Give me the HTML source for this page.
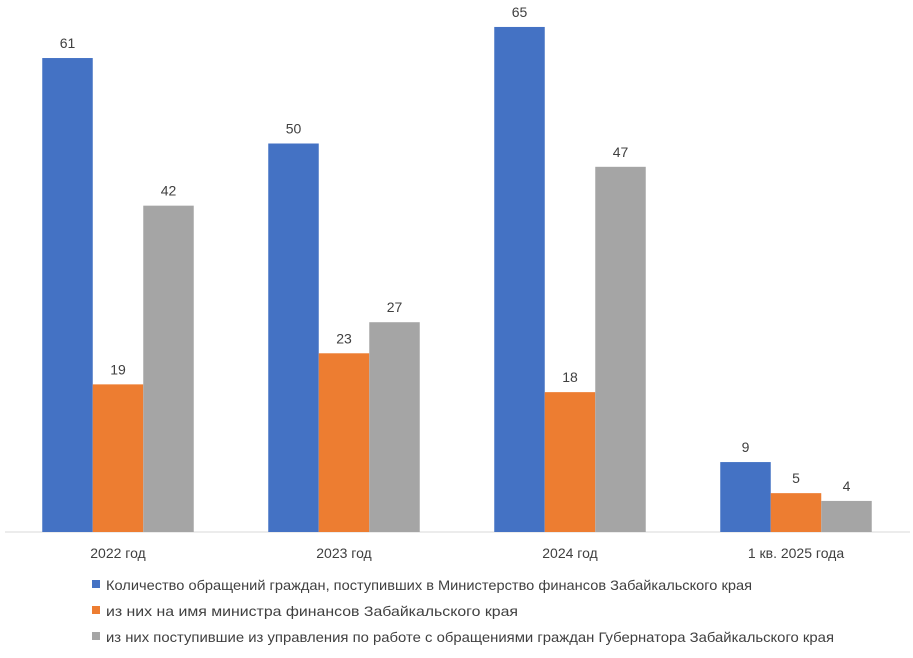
<!DOCTYPE html>
<html><head><meta charset="utf-8"><style>
body{margin:0;background:#fff;font-family:"Liberation Sans","DejaVu Sans",sans-serif;}
svg text{font-family:"Liberation Sans","DejaVu Sans",sans-serif;fill:#404040;}
</style></head><body>
<svg id="chart" width="913" height="653" viewBox="0 0 913 653" xmlns="http://www.w3.org/2000/svg">
<line x1="5" y1="532" x2="910" y2="532" stroke="#d9d9d9" stroke-width="1"/>
<g id="bars"></g>
<g id="labels"></g>
<g>
<rect x="92" y="580" width="8" height="8" fill="#4472c4"/>
<text x="106" y="590" font-size="14" textLength="646" lengthAdjust="spacingAndGlyphs">Количество обращений граждан, поступивших в Министерство финансов Забайкальского края</text>
<rect x="92" y="606" width="8" height="8" fill="#ed7d31"/>
<text x="106" y="616" font-size="14" textLength="412" lengthAdjust="spacingAndGlyphs">из них на имя министра финансов Забайкальского края</text>
<rect x="92" y="632" width="8" height="8" fill="#a5a5a5"/>
<text x="106" y="642" font-size="14" textLength="728" lengthAdjust="spacingAndGlyphs">из них поступившие из управления по работе с обращениями граждан Губернатора Забайкальского края</text>
</g>
</svg>
<script>
const categories=["2022 год","2023 год","2024 год","1 кв. 2025 года"];
const seriesTotal=[61,50,65,9];
const seriesMinister=[19,23,18,5];
const seriesGovernor=[42,27,47,4];
const colors=["#4472c4","#ed7d31","#a5a5a5"];
const names=["total","minister","governor"];
const series=[seriesTotal,seriesMinister,seriesGovernor];
const NS="http://www.w3.org/2000/svg";
const baseY=532, pxPerUnit=7.77, groupStart=5, groupW=226, barW=50.5;
function yScale(v){return baseY-v*pxPerUnit;}
function groupCenter(i){return groupStart+groupW*(i+0.5);}
const bars=document.getElementById("bars"), labels=document.getElementById("labels");
categories.forEach((c,i)=>{
  const cx=groupCenter(i);
  series.forEach((s,j)=>{
    const x=cx-1.5*barW+j*barW, y=yScale(s[i]);
    const r=document.createElementNS(NS,"rect");
    
    
    r.setAttribute("x",x);r.setAttribute("y",y);r.setAttribute("width",barW);r.setAttribute("height",baseY-y);r.setAttribute("fill",colors[j]);
    bars.appendChild(r);
    const t=document.createElementNS(NS,"text");
    
    
    t.setAttribute("x",x+barW/2);t.setAttribute("y",y-10);t.setAttribute("text-anchor","middle");t.setAttribute("font-size","14");
    t.textContent=s[i];labels.appendChild(t);
  });
  const t=document.createElementNS(NS,"text");
  
  
  t.setAttribute("x",cx);t.setAttribute("y",558);t.setAttribute("text-anchor","middle");t.setAttribute("font-size","14");
  t.textContent=c;labels.appendChild(t);
});
</script>
</body></html>
